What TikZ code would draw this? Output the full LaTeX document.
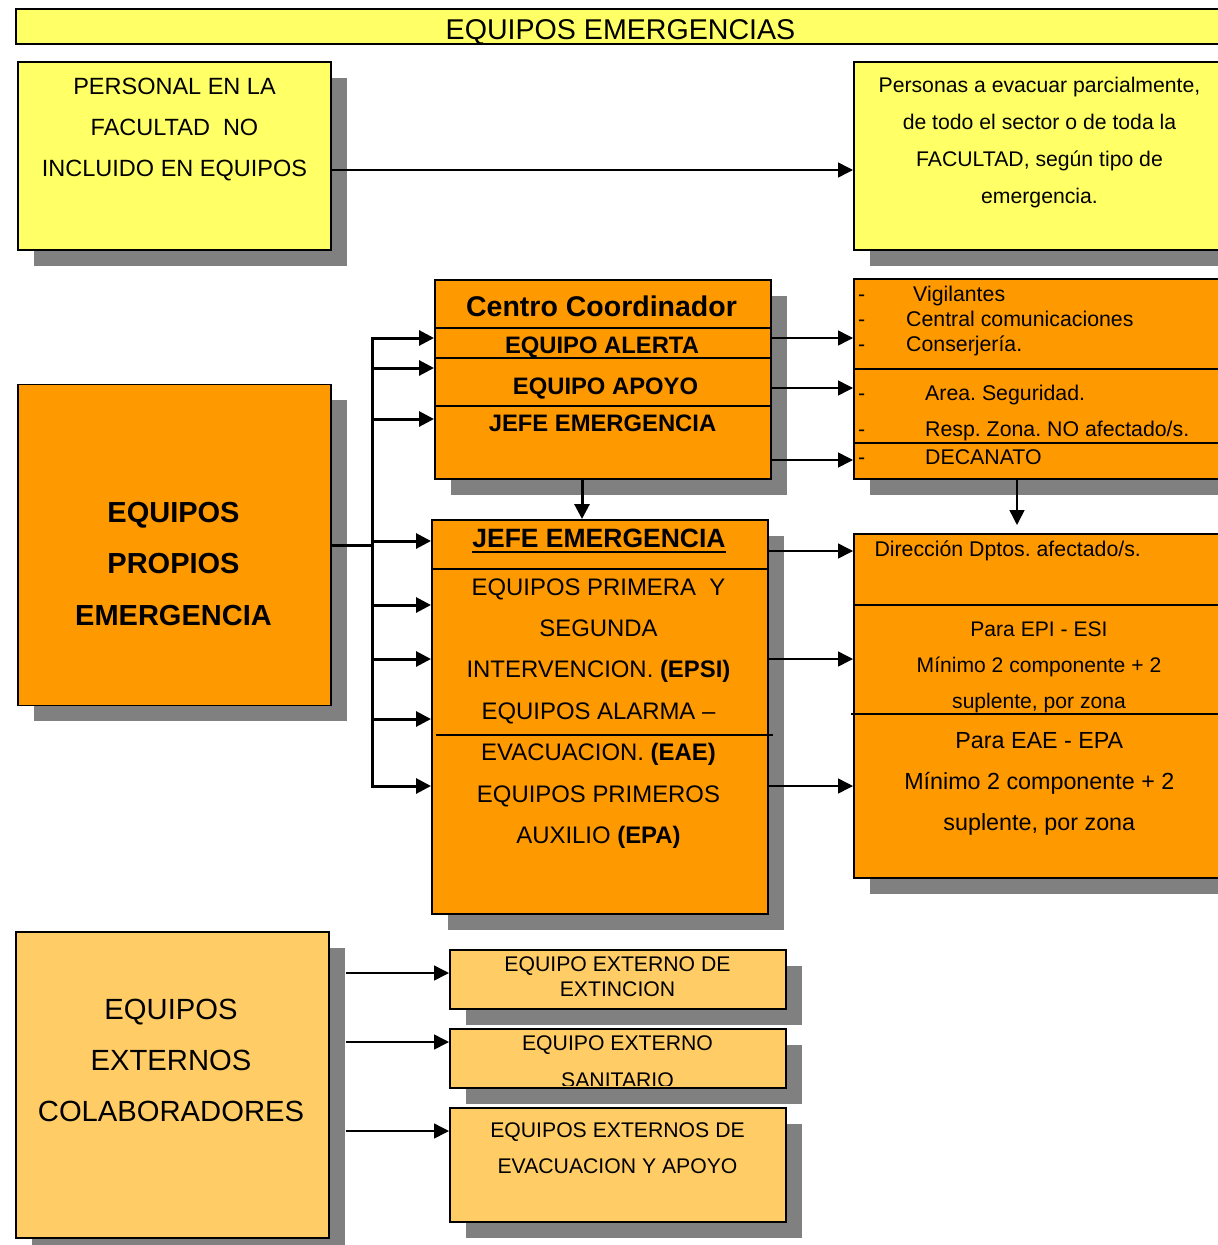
\documentclass[tikz,border=0pt]{standalone}
\usepackage{fontspec}
\setmainfont{Liberation Sans}
\usepackage{tikz}
\usetikzlibrary{arrows.meta,shadows}
\frenchspacing

\definecolor{amarillo}{HTML}{FFFF66}
\definecolor{naranja}{HTML}{FF9900}
\definecolor{claro}{HTML}{FFCC66}
\definecolor{sombra}{HTML}{808080}
\newcommand{\tam}[1]{\fontsize{#1pt}{#1pt}\selectfont}

\begin{document}
\begin{tikzpicture}[x=1pt,y=-1pt,
  marco/.style={draw, line width=1.5pt, inner sep=0pt, anchor=north west},
  caja/.style={marco, general shadow={fill=sombra, shadow xshift=16pt, shadow yshift=-16pt}},
  linea/.style={line width=1.5pt},
  txt/.style={inner sep=0pt, anchor=base},
  flecha/.style={line width=1.5pt, -{Triangle[length=15pt,width=15pt]}},
  bus/.style={line width=3pt},
  busflecha/.style={line width=3pt, -{Triangle[length=15pt,width=15pt]}}
]
\useasboundingbox (0,0) rectangle (1218,1245);
\clip (0,0) rectangle (1218,1245);

% The boxes
\node[marco, fill=amarillo, minimum width=1240pt, minimum height=35pt] (titulo) at (15,8.3) {};
\node[caja, fill=amarillo, minimum width=313pt, minimum height=188pt] (personal) at (17,61) {};
\node[caja, fill=amarillo, minimum width=387pt, minimum height=188pt] (personas) at (853,61) {};
\node[caja, fill=naranja, minimum width=336pt, minimum height=199pt] (centro) at (434,279) {};
\node[caja, fill=naranja, minimum width=387pt, minimum height=200pt] (vig) at (853,278) {};
\node[caja, fill=naranja, minimum width=313pt, minimum height=321pt] (propios) at (17,383.5) {};
\node[caja, fill=naranja, minimum width=336pt, minimum height=394pt] (jefe) at (431,519) {};
\node[caja, fill=naranja, minimum width=387pt, minimum height=344pt] (dir) at (853,533) {};
\node[caja, fill=claro, minimum width=313pt, minimum height=306pt] (externos) at (15,931) {};
\node[caja, fill=claro, minimum width=336pt, minimum height=59pt] (ext1) at (449,949) {};
\node[caja, fill=claro, minimum width=336pt, minimum height=59pt] (ext2) at (449,1028) {};
\node[caja, fill=claro, minimum width=336pt, minimum height=114pt] (ext3) at (449,1107) {};

% The dividers
\foreach \y in {328,358,406}
  \draw[linea] (centro.west |- 0,\y) -- (centro.east |- 0,\y);
\foreach \y in {369,443}
  \draw[linea] (vig.west |- 0,\y) -- (vig.east |- 0,\y);
\draw[linea] (dir.west |- 0,605) -- (dir.east |- 0,605);
\draw[linea] (851,714) -- (dir.east |- 0,714);
\draw[linea] (jefe.west |- 0,569) -- (jefe.east |- 0,569);
\draw[linea] (436,735) -- (773,735);

% The labels
\node[txt, font=\tam{28.6}] (tit) at (620.5,39) {EQUIPOS EMERGENCIAS};
\foreach \t [count=\i] in {PERSONAL EN LA, FACULTAD\ \ NO, INCLUIDO EN EQUIPOS}
  \node[txt, font=\tam{23.5}] (personal\i) at (174.5,{94+41.35*(\i-1)}) {\t};
\foreach \t [count=\i] in {{Personas a evacuar parcialmente,}, de todo el sector o de toda la, {FACULTAD, según tipo de}, emergencia.}
  \node[txt, font=\tam{21.2}] (personas\i) at (1039.5,{92+37*(\i-1)}) {\t};

\node[txt, font=\tam{28.5}\bfseries] (centro0) at (601.5,316) {Centro Coordinador};
\node[txt, font=\tam{23.8}\bfseries] (alerta) at (602,353.3) {EQUIPO ALERTA};
\node[txt, font=\tam{23.8}\bfseries] (apoyo) at (605.5,394.3) {EQUIPO APOYO};
\node[txt, font=\tam{23.8}\bfseries] (jefe1) at (602.5,431.7) {JEFE EMERGENCIA};

\foreach \x/\y/\t [count=\i] in {913/301.7/Vigilantes, 906/326.7/Central comunicaciones, 906/351/Conserjería., 925/400/Area. Seguridad., 925/436.7/Resp. Zona. NO afectado\slash s., 925/464.3/DECANATO}
{
  \node[txt, anchor=base west, font=\tam{21.3}] (guion\i) at (858,\y) {-};
  \node[txt, anchor=base west, font=\tam{21.3}] (vig\i) at (\x,\y) {\t};
}

\foreach \t [count=\i] in {EQUIPOS, PROPIOS, EMERGENCIA}
  \node[txt, font=\tam{29}\bfseries] (propios\i) at (173.5,{522.7+51.2*(\i-1)}) {\t};

\node[txt, font=\tam{26.5}\bfseries] (jefe0) at (599,547.7) {JEFE EMERGENCIA};
\draw[line width=2pt] ([yshift=-4pt]jefe0.base west) -- ([yshift=-4pt]jefe0.base east);
\foreach \t [count=\i] in {EQUIPOS PRIMERA\ \ Y, SEGUNDA, INTERVENCION. \textbf{(EPSI)}, EQUIPOS ALARMA \textendash, EVACUACION. \textbf{(EAE)}, EQUIPOS PRIMEROS, AUXILIO \textbf{(EPA)}}
  \node[txt, font=\tam{23.9}] (equipo\i) at (598.5,{595+41.4*(\i-1)}) {\t};

\node[txt, anchor=base west, font=\tam{21.3}] (dir0) at (874.3,556) {Dirección Dptos. afectado/s.};
\foreach \t [count=\i] in {Para EPI - ESI, Mínimo 2 componente + 2, {suplente, por zona}}
  \node[txt, font=\tam{21.1}] (epi\i) at (1039,{636+36.2*(\i-1)}) {\t};
\foreach \t [count=\i] in {Para EAE - EPA, Mínimo 2 componente + 2, {suplente, por zona}}
  \node[txt, font=\tam{23.3}] (eae\i) at (1039.3,{748.3+41*(\i-1)}) {\t};

\foreach \t [count=\i] in {EQUIPOS, EXTERNOS, COLABORADORES}
  \node[txt, font=\tam{29.2}] (externos\i) at (171,{1019.3+50.85*(\i-1)}) {\t};
\foreach \t [count=\i] in {EQUIPO EXTERNO DE, EXTINCION}
  \node[txt, font=\tam{21.2}] (extinc\i) at (617.5,{971.7+25*(\i-1)}) {\t};
\begin{scope}
  \clip (ext2.north west) rectangle ([yshift=3pt]ext2.south east);
  \foreach \t [count=\i] in {EQUIPO EXTERNO, SANITARIO}
    \node[txt, font=\tam{21.2}] (sanit\i) at (617.5,{1050.7+36.5*(\i-1)}) {\t};
\end{scope}
\foreach \t [count=\i] in {EQUIPOS EXTERNOS DE, EVACUACION Y APOYO}
  \node[txt, font=\tam{21.2}] (evac\i) at (617.5,{1137.3+36*(\i-1)}) {\t};

% The arrows
\draw[flecha] (personal.east |- 0,170) -- (personas.west |- 0,170);

\coordinate (busarriba) at (372,338);
\coordinate (busabajo) at (372,786);
\draw[bus] (propios.east |- 0,545) -- (busarriba |- 0,545);
\draw[bus, line cap=rect] (busarriba) -- (busabajo);
\foreach \y in {338,368,419}
  \draw[busflecha] (busarriba |- 0,\y) -- (centro.west |- 0,\y);
\foreach \y in {541,605,659,719,786}
  \draw[busflecha] (busarriba |- 0,\y) -- (jefe.west |- 0,\y);
\draw[busflecha] (centro.south -| 582,0) -- (jefe.north -| 582,0);

\foreach \y in {338,388,460}
  \draw[flecha] (centro.east |- 0,\y) -- (vig.west |- 0,\y);
\foreach \y in {551,659,786}
  \draw[flecha] (jefe.east |- 0,\y) -- (dir.west |- 0,\y);
\draw[flecha] (vig.south -| 1017,0) -- ([yshift=8pt]dir.north -| 1017,0);

\foreach \y/\caja in {973/ext1,1042/ext2,1131/ext3}
  \draw[flecha] ([xshift=16pt]externos.east |- 0,\y) -- (\caja.west |- 0,\y);
\end{tikzpicture}
\end{document}
